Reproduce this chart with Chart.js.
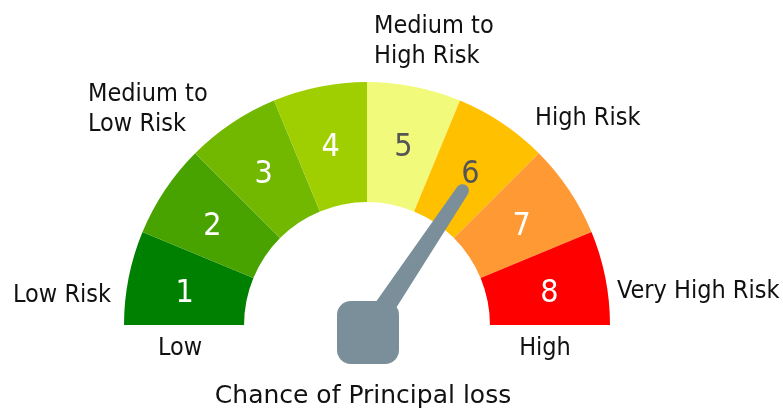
<!DOCTYPE html>
<html>
<head>
<meta charset="utf-8">
<script src="https://cdn.jsdelivr.net/npm/chart.js@4"></script>
<style>
  html, body { margin: 0; padding: 0; background: #fff; }
  #wrap { width: 783px; height: 412px; }
</style>
</head>
<body>
<div id="wrap"><canvas id="gauge" width="783" height="412"></canvas></div>
<script>
// gauge bands 1..8
const bandLabels = ["1", "2", "3", "4", "5", "6", "7", "8"];
const bandSizes = [1, 1, 1, 1, 1, 1, 1, 1];
const bandColors = ["#008000", "#48A300", "#72B800", "#9FCF00", "#F2FA7C", "#FFC000", "#FF9933", "#FF0000"];
const bandTextColors = ["#fff", "#fff", "#fff", "#fff", "#555", "#555", "#fff", "#fff"];
const riskNames = ["Low Risk", "Medium to\nLow Risk", "Medium to\nHigh Risk", "High Risk", "Very High Risk"];
const endNames = ["Low", "High"];
const axisTitle = "Chance of Principal loss";
const needleValue = 5.5; // in band units, 0..8

const FONT = '"DejaVu Sans Condensed", "DejaVu Sans", sans-serif';

const gaugeText = {
  id: "gaugeText",
  afterDatasetsDraw(chart) {
    const ctx = chart.ctx;
    const arc = chart.getDatasetMeta(0).data[0];
    const cx = arc.x, cy = arc.y;
    const rOut = arc.outerRadius, rIn = arc.innerRadius;
    const total = bandSizes.reduce((a, b) => a + b, 0);

    // numbers inside bands
    ctx.save();
    ctx.textAlign = "center";
    ctx.textBaseline = "alphabetic";
    ctx.font = "32px " + FONT;
    let acc = 0;
    bandLabels.forEach((lab, i) => {
      const mid = acc + bandSizes[i] / 2;
      acc += bandSizes[i];
      const a = Math.PI + (mid / total) * Math.PI;
      const r = 186;
      ctx.fillStyle = bandTextColors[i];
      ctx.fillText(lab, cx + r * Math.cos(a), cy + r * Math.sin(a) + 13);
    });
    ctx.restore();

    // risk names around the gauge
    ctx.save();
    ctx.font = "25px " + FONT;
    ctx.fillStyle = "#111";
    ctx.textBaseline = "alphabetic";
    const spots = [[111, 302, "right"], [88, 101, "left"], [374, 33, "left"], [535, 125, "left"], [617, 298, "left"]];
    riskNames.forEach((name, i) => {
      const [x, y, al] = spots[i];
      ctx.textAlign = al;
      name.split("\n").forEach((ln, j) => ctx.fillText(ln, x, y + j * 30));
    });
    ctx.textAlign = "center";
    ctx.fillText(endNames[0], 180, 355);
    ctx.fillText(endNames[1], 545, 355);
    ctx.font = '25px "DejaVu Sans", sans-serif';
    ctx.fillText(axisTitle, 363, 403);
    ctx.restore();

    // needle
    const px = cx + 1, py = cy + 7;
    const a = Math.PI + (needleValue / total) * Math.PI;
    const len = 170;
    const tx = px + len * Math.cos(a), ty = py + len * Math.sin(a);
    const nx = -Math.sin(a), ny = Math.cos(a);
    const wb = 11, wt = 6.5;
    ctx.save();
    ctx.fillStyle = "#7A8F99";
    ctx.beginPath();
    ctx.moveTo(px + nx * wb, py + ny * wb);
    ctx.lineTo(tx + nx * wt, ty + ny * wt);
    ctx.arc(tx, ty, wt, a + Math.PI / 2, a - Math.PI / 2, true);
    ctx.lineTo(px - nx * wb, py - ny * wb);
    ctx.closePath();
    ctx.fill();
    ctx.beginPath();
    ctx.roundRect(px - 31, py - 31, 62, 63, 14);
    ctx.fill();
    ctx.restore();
  }
};

new Chart(document.getElementById("gauge"), {
  type: "doughnut",
  data: {
    labels: bandLabels,
    datasets: [{
      data: bandSizes,
      backgroundColor: bandColors,
      borderWidth: 0
    }]
  },
  options: {
    responsive: false,
    animation: false,
    rotation: -90,
    circumference: 180,
    cutout: "50.6%",
    layout: { padding: { left: 124, right: 173, top: 82, bottom: 87 } },
    plugins: { legend: { display: false }, tooltip: { enabled: false } }
  },
  plugins: [gaugeText]
});
</script>
</body>
</html>
